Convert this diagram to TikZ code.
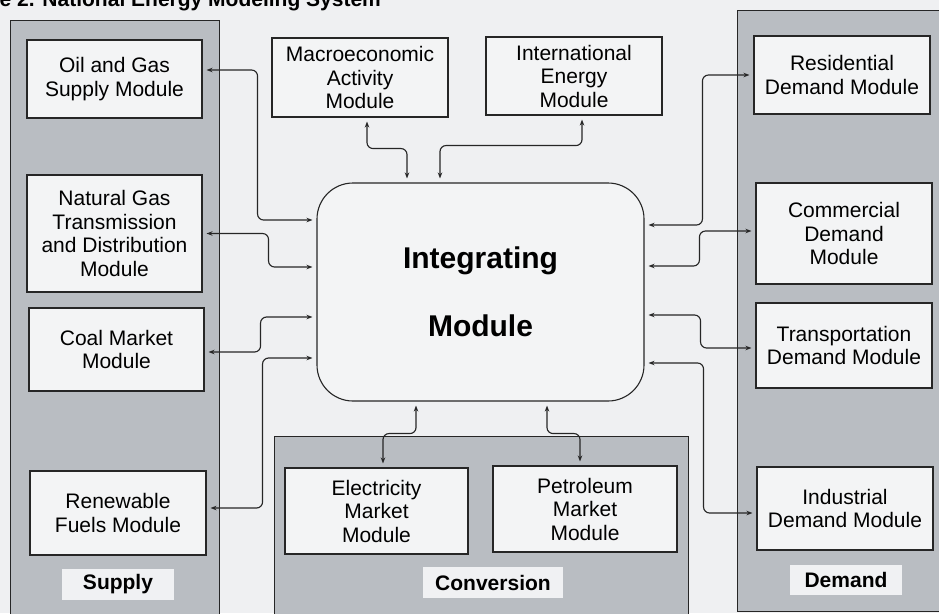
\documentclass[tikz,border=0pt]{standalone}
\usepackage{fontspec}
\setmainfont{Liberation Sans}
\usetikzlibrary{arrows.meta}

\definecolor{paper}{HTML}{EFF0F2}
\definecolor{panelgray}{HTML}{B9BDC2}
\definecolor{boxfill}{HTML}{F3F4F5}
\definecolor{tagfill}{HTML}{F0F1F3}
\definecolor{ink}{HTML}{262626}

\tikzset{
  panel/.style={draw=ink, line width=1pt, fill=panelgray},
  module/.style={draw=ink, line width=1.1pt, fill=boxfill, align=center,
    inner sep=0pt, font=\fontsize{21}{23.5}\selectfont},
  tag/.style={fill=tagfill, inner sep=0pt, font=\bfseries\fontsize{21}{24}\selectfont},
  hub/.style={draw=ink, line width=1.1pt, fill=boxfill, rounded corners=36pt,
    align=center, inner sep=0pt, font=\bfseries\fontsize{30}{68}\selectfont},
  link/.style={draw=ink, line width=1.15pt, rounded corners=6pt,
    {Stealth[length=6pt,width=4.5pt]}-{Stealth[length=6pt,width=4.5pt]},
    shorten <=4pt, shorten >=4pt},
}

\begin{document}
\begin{tikzpicture}[x=1pt, y=-1pt]
\useasboundingbox (0,0) rectangle (939,613);
\fill[paper] (0,0) rectangle (939,613);

% heading line at the very top edge
\node[anchor=base west, inner sep=0pt, font=\bfseries\fontsize{21}{25}\selectfont]
  (heading) at (-53,6) {Figure 2. National Energy Modeling System};

% grey group panels
\draw[panel] (10,20) rectangle (219,640);
\draw[panel] (737,10) rectangle (960,611);
\draw[panel] (274,436) rectangle (688,640);

% supply modules
\node[module, minimum width=175pt, minimum height=78pt] (oil) at (114.5,79)
  {Oil and Gas\\Supply Module};
\node[module, minimum width=175pt, minimum height=117pt] (ng) at (114.5,233.5)
  {Natural Gas\\Transmission\\and Distribution\\Module};
\node[module, minimum width=175pt, minimum height=83pt] (coal) at (116.5,349.5)
  {Coal Market\\Module};
\node[module, minimum width=176pt, minimum height=84pt] (renew) at (118,513)
  {Renewable\\Fuels Module};
\node[tag, minimum width=112pt, minimum height=31pt] (supply) at (118,584.5) {Supply};

% top modules
\node[module, minimum width=176pt, minimum height=79pt] (macro) at (360,77.5)
  {Macroeconomic\\Activity\\Module};
\node[module, minimum width=176pt, minimum height=78pt] (intl) at (574,76)
  {International\\Energy\\Module};

% demand modules
\node[module, minimum width=176pt, minimum height=78pt] (resid) at (842,75)
  {Residential\\Demand Module};
\node[module, minimum width=176pt, minimum height=101pt] (comm) at (844,233.5)
  {Commercial\\Demand\\Module};
\node[module, minimum width=176pt, minimum height=85pt] (trans) at (844,345.5)
  {Transportation\\Demand Module};
\node[module, minimum width=176pt, minimum height=83pt] (indus) at (845,508.5)
  {Industrial\\Demand Module};
\node[tag, minimum width=112pt, minimum height=30pt] (demand) at (846,580) {Demand};

% conversion modules
\node[module, minimum width=183pt, minimum height=86pt] (elec) at (376.5,511)
  {Electricity\\Market\\Module};
\node[module, minimum width=184pt, minimum height=86pt] (petro) at (585,509)
  {Petroleum\\Market\\Module};
\node[tag, minimum width=140pt, minimum height=31pt] (conv) at (493,582.5) {Conversion};

% central integrating module
\node[hub, minimum width=327pt, minimum height=218pt] (int) at (480.5,292)
  {Integrating\\Module};

% links: supply side
\draw[link] ([yshift=9pt]oil.east) -- ++(55,0) |- ([yshift=72pt]int.west);
\draw[link] (ng.east) -- ++(66,0) |- ([yshift=25pt]int.west);
\draw[link] ([yshift=-2.5pt]coal.east) -- ++(56,0) |- ([yshift=-25pt]int.west);
\draw[link] ([yshift=5pt]renew.east) -- ++(56,0) |- ([yshift=-66pt]int.west);

% links: top
\draw[link] ([xshift=7pt]macro.south) -- ++(0,31) -| ([xshift=-73.5pt]int.north);
\draw[link] ([xshift=8pt]intl.south) -- ++(0,30) -| ([xshift=-40.5pt]int.north);

% links: demand side
\draw[link] (resid.west) -- ++(-51,0) |- ([yshift=67pt]int.east);
\draw[link] ([yshift=2.5pt]comm.west) -- ++(-56,0) |- ([yshift=26pt]int.east);
\draw[link] ([yshift=-23pt]int.east) -- ++(56,0) |- ([yshift=-2.5pt]trans.west);
\draw[link] ([yshift=-71pt]int.east) -- ++(59,0) |- ([yshift=-4.5pt]indus.west);

% links: conversion
\draw[link] ([xshift=-64.5pt]int.south) -- ++(0,32) -| ([xshift=6.5pt]elec.north);
\draw[link] ([xshift=66.5pt]int.south) -- ++(0,32) -| ([xshift=-5pt]petro.north);
\end{tikzpicture}
\end{document}
